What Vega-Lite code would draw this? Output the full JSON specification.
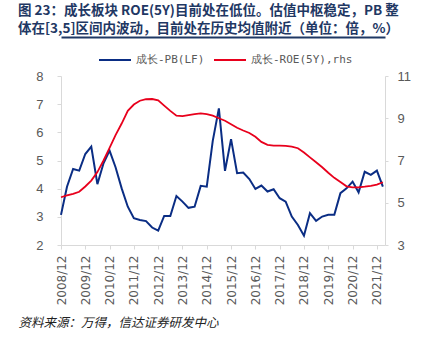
{
  "$schema": "https://vega.github.io/schema/vega-lite/v6.json",
  "width": 324,
  "height": 169,
  "autosize": {"type": "none"},
  "padding": {"left": 61, "top": 76, "right": 48, "bottom": 94},
  "title": {
    "text": ["图 23：成长板块 ROE(5Y)目前处在低位。估值中枢稳定，PB 整", "体在[3,5]区间内波动，目前处在历史均值附近（单位：倍，%）"],
    "anchor": "start",
    "frame": "group",
    "dx": -43,
    "offset": 1.5,
    "font": "Noto Sans CJK SC",
    "fontSize": 13.5,
    "fontWeight": "bold",
    "color": "#1f3864",
    "lineHeight": 18
  },
  "data": {
    "values": [
      {"date": "2008-12-01", "pb": 3.07, "roe": 5.26},
      {"date": "2009-03-01", "pb": 4.07, "roe": 5.35},
      {"date": "2009-06-01", "pb": 4.70, "roe": 5.42},
      {"date": "2009-09-01", "pb": 4.64, "roe": 5.52},
      {"date": "2009-12-01", "pb": 5.23, "roe": 5.77},
      {"date": "2010-03-01", "pb": 5.49, "roe": 6.05},
      {"date": "2010-06-01", "pb": 4.16, "roe": 6.45},
      {"date": "2010-09-01", "pb": 4.90, "roe": 7.00},
      {"date": "2010-12-01", "pb": 5.35, "roe": 7.60},
      {"date": "2011-03-01", "pb": 4.76, "roe": 8.20},
      {"date": "2011-06-01", "pb": 4.01, "roe": 8.75},
      {"date": "2011-09-01", "pb": 3.36, "roe": 9.35},
      {"date": "2011-12-01", "pb": 2.95, "roe": 9.65},
      {"date": "2012-03-01", "pb": 2.89, "roe": 9.83},
      {"date": "2012-06-01", "pb": 2.85, "roe": 9.90},
      {"date": "2012-09-01", "pb": 2.62, "roe": 9.91},
      {"date": "2012-12-01", "pb": 2.51, "roe": 9.85},
      {"date": "2013-03-01", "pb": 3.03, "roe": 9.60},
      {"date": "2013-06-01", "pb": 3.03, "roe": 9.35},
      {"date": "2013-09-01", "pb": 3.74, "roe": 9.12},
      {"date": "2013-12-01", "pb": 3.54, "roe": 9.10},
      {"date": "2014-03-01", "pb": 3.32, "roe": 9.15},
      {"date": "2014-06-01", "pb": 3.36, "roe": 9.20},
      {"date": "2014-09-01", "pb": 4.10, "roe": 9.23},
      {"date": "2014-12-01", "pb": 4.07, "roe": 9.20},
      {"date": "2015-03-01", "pb": 5.70, "roe": 9.12},
      {"date": "2015-06-01", "pb": 6.85, "roe": 9.00},
      {"date": "2015-09-01", "pb": 4.63, "roe": 8.88},
      {"date": "2015-12-01", "pb": 5.76, "roe": 8.72},
      {"date": "2016-03-01", "pb": 4.55, "roe": 8.55},
      {"date": "2016-06-01", "pb": 4.57, "roe": 8.42},
      {"date": "2016-09-01", "pb": 4.34, "roe": 8.30},
      {"date": "2016-12-01", "pb": 3.99, "roe": 8.12},
      {"date": "2017-03-01", "pb": 4.11, "roe": 7.88},
      {"date": "2017-06-01", "pb": 3.90, "roe": 7.74},
      {"date": "2017-09-01", "pb": 3.98, "roe": 7.70},
      {"date": "2017-12-01", "pb": 3.66, "roe": 7.70},
      {"date": "2018-03-01", "pb": 3.54, "roe": 7.69},
      {"date": "2018-06-01", "pb": 3.01, "roe": 7.66},
      {"date": "2018-09-01", "pb": 2.71, "roe": 7.58},
      {"date": "2018-12-01", "pb": 2.33, "roe": 7.38},
      {"date": "2019-03-01", "pb": 3.13, "roe": 7.15},
      {"date": "2019-06-01", "pb": 2.86, "roe": 6.92},
      {"date": "2019-09-01", "pb": 3.01, "roe": 6.68},
      {"date": "2019-12-01", "pb": 3.07, "roe": 6.42},
      {"date": "2020-03-01", "pb": 3.07, "roe": 6.18},
      {"date": "2020-06-01", "pb": 3.84, "roe": 5.98},
      {"date": "2020-09-01", "pb": 4.01, "roe": 5.78},
      {"date": "2020-12-01", "pb": 4.25, "roe": 5.73},
      {"date": "2021-03-01", "pb": 3.87, "roe": 5.73},
      {"date": "2021-06-01", "pb": 4.60, "roe": 5.76},
      {"date": "2021-09-01", "pb": 4.49, "roe": 5.80},
      {"date": "2021-12-01", "pb": 4.64, "roe": 5.86},
      {"date": "2022-03-01", "pb": 4.07, "roe": 5.97}
    ]
  },
  "layer": [
    {
      "mark": {"type": "line", "strokeWidth": 2},
      "encoding": {
        "x": {
          "field": "date",
          "type": "temporal",
          "scale": {"type": "utc", "domain": [{"year": 2008, "month": 12, "date": 1, "utc": true}, {"year": 2022, "month": 4, "date": 2, "utc": true}]},
          "axis": {
            "values": [
              {"year": 2008, "month": 12, "date": 1, "utc": true},
              {"year": 2009, "month": 12, "date": 1, "utc": true},
              {"year": 2010, "month": 12, "date": 1, "utc": true},
              {"year": 2011, "month": 12, "date": 1, "utc": true},
              {"year": 2012, "month": 12, "date": 1, "utc": true},
              {"year": 2013, "month": 12, "date": 1, "utc": true},
              {"year": 2014, "month": 12, "date": 1, "utc": true},
              {"year": 2015, "month": 12, "date": 1, "utc": true},
              {"year": 2016, "month": 12, "date": 1, "utc": true},
              {"year": 2017, "month": 12, "date": 1, "utc": true},
              {"year": 2018, "month": 12, "date": 1, "utc": true},
              {"year": 2019, "month": 12, "date": 1, "utc": true},
              {"year": 2020, "month": 12, "date": 1, "utc": true},
              {"year": 2021, "month": 12, "date": 1, "utc": true}
            ],
            "labelExpr": "utcFormat(datum.value, '%Y/%m')",
            "labelAngle": -90,
            "labelAlign": "right",
            "labelBaseline": "middle",
            "labelPadding": 6,
            "labelFont": "DejaVu Sans",
            "labelFontSize": 12,
            "labelColor": "#595959",
            "labelOverlap": false,
            "labelFlush": false,
            "tickSize": 4,
            "tickColor": "#d9d9d9",
            "domainColor": "#d9d9d9",
            "grid": false,
            "title": "资料来源：万得，信达证券研发中心",
            "titleX": -43,
            "titleY": 77,
            "titleAnchor": "start",
            "titleAlign": "left",
            "titleBaseline": "middle",
            "titleFont": "Noto Sans CJK SC",
            "titleFontSize": 12.5,
            "titleFontStyle": "italic",
            "titleFontWeight": "normal",
            "titleColor": "#222222"
          }
        },
        "y": {
          "field": "pb",
          "type": "quantitative",
          "scale": {"domain": [2, 8], "nice": false, "zero": false},
          "axis": {
            "values": [2, 3, 4, 5, 6, 7, 8],
            "grid": false,
            "title": null,
            "labelFont": "Liberation Sans",
            "labelFontSize": 13,
            "labelColor": "#595959",
            "labelPadding": 14,
            "tickSize": 4,
            "tickColor": "#d9d9d9",
            "domainColor": "#d9d9d9"
          }
        },
        "color": {
          "datum": "成长-PB(LF)",
          "scale": {"domain": ["成长-PB(LF)", "成长-ROE(5Y),rhs"], "range": ["#0a2d84", "#e8001c"]},
          "legend": {
            "orient": "none",
            "legendX": 37,
            "legendY": -33,
            "direction": "horizontal",
            "title": null,
            "symbolType": "stroke",
            "symbolSize": 1024,
            "symbolStrokeWidth": 2,
            "labelFont": "DejaVu Sans Mono",
            "labelFontSize": 11,
            "labelColor": "#595959",
            "labelOffset": 4,
            "columnPadding": 5
          }
        }
      }
    },
    {
      "mark": {"type": "line", "strokeWidth": 1.8},
      "encoding": {
        "x": {
          "field": "date",
          "type": "temporal",
          "axis": {
            "orient": "top",
            "offset": 39,
            "labels": false,
            "ticks": false,
            "grid": false,
            "title": null,
            "domainColor": "#1f3864",
            "domainWidth": 2
          }
        },
        "y": {
          "field": "roe",
          "type": "quantitative",
          "scale": {"domain": [3, 11], "nice": false, "zero": false},
          "axis": {
            "orient": "right",
            "values": [3, 5, 7, 9, 11],
            "grid": false,
            "title": null,
            "labelFont": "Liberation Sans",
            "labelFontSize": 13,
            "labelColor": "#595959",
            "labelPadding": 9,
            "tickSize": 3,
            "tickColor": "#d9d9d9",
            "domainColor": "#d9d9d9"
          }
        },
        "color": {"datum": "成长-ROE(5Y),rhs"}
      }
    }
  ],
  "resolve": {"scale": {"y": "independent"}, "axis": {"x": "independent"}},
  "config": {"view": {"stroke": null}}
}
